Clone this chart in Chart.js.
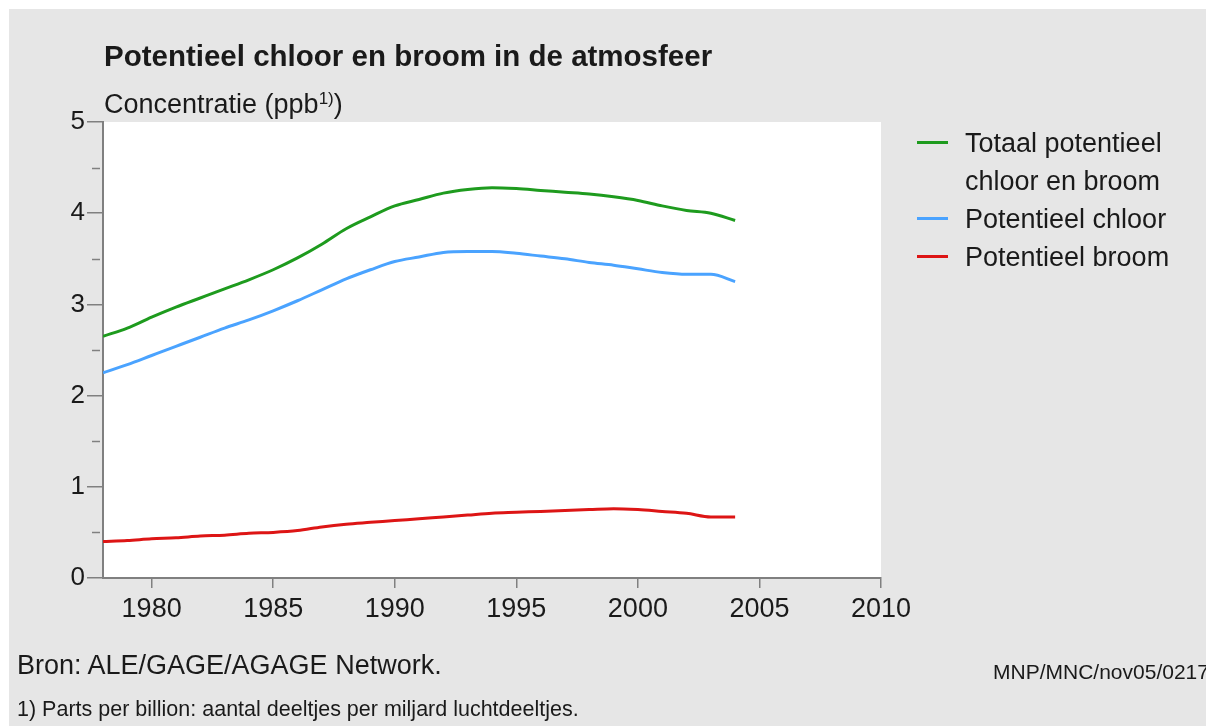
<!DOCTYPE html>
<html>
<head>
<meta charset="utf-8">
<script src="https://cdn.jsdelivr.net/npm/chart.js@4.4.1/dist/chart.umd.min.js"></script>
<style>
  html, body { margin: 0; padding: 0; background: #ffffff; }
  #frame { position: absolute; left: 9px; top: 9px; width: 1197px; height: 717px; background: #e6e6e6; overflow: hidden; }
  #wrap { position: absolute; left: 0; top: 0; width: 1206px; height: 726px; overflow: hidden; }
  .txt { position: absolute; font-family: "Liberation Sans", Arial, sans-serif; color: #1a1a1a; white-space: nowrap; line-height: 1; }
  #title { left: 104px; top: 41px; font-size: 29.5px; font-weight: bold; }
  #unit { left: 104px; top: 90px; font-size: 27px; }
  #unit sup { font-size: 17px; vertical-align: 9px; line-height: 1; }
  #legend { position: absolute; left: 917px; top: 123.5px; font-family: "Liberation Sans", Arial, sans-serif; font-size: 27px; color: #1a1a1a; }
  .item { position: relative; padding-left: 48px; line-height: 38px; white-space: nowrap; }
  .swatch { position: absolute; left: 0; top: 17px; width: 31px; height: 3px; }
  #source { left: 17px; top: 652px; font-size: 27px; }
  #code { left: 993px; top: 661px; font-size: 21px; }
  #note { left: 17px; top: 699px; font-size: 21.5px; }
  #clip { position: absolute; left: 0; top: 0; width: 1206px; height: 726px; overflow: hidden; }
</style>
</head>
<body>
<div id="frame"></div>
<div id="wrap"><canvas id="chart" width="1206" height="726"></canvas></div>
<div id="clip">
  <div class="txt" id="title">Potentieel chloor en broom in de atmosfeer</div>
  <div class="txt" id="unit">Concentratie (ppb<sup>1)</sup>)</div>
  <div id="legend"></div>
  <div class="txt" id="source">Bron: ALE/GAGE/AGAGE Network.</div>
  <div class="txt" id="code">MNP/MNC/nov05/0217</div>
  <div class="txt" id="note">1) Parts per billion: aantal deeltjes per miljard luchtdeeltjes.</div>
</div>
<script>
const years = [1978, 1979, 1980, 1981, 1982, 1983, 1984, 1985, 1986, 1987, 1988, 1989, 1990, 1991,
               1992, 1993, 1994, 1995, 1996, 1997, 1998, 1999, 2000, 2001, 2002, 2003, 2004];

const totaal = [2.65, 2.74, 2.86, 2.97, 3.07, 3.17, 3.27, 3.38, 3.51, 3.66, 3.83, 3.96, 4.08, 4.15,
                4.22, 4.26, 4.28, 4.27, 4.25, 4.23, 4.21, 4.18, 4.14, 4.08, 4.03, 4.00, 3.92];
const chloor = [2.25, 2.34, 2.44, 2.54, 2.64, 2.74, 2.83, 2.93, 3.04, 3.16, 3.28, 3.38, 3.47, 3.52,
                3.57, 3.58, 3.58, 3.56, 3.53, 3.50, 3.46, 3.43, 3.39, 3.35, 3.33, 3.33, 3.25];
const broom = [0.40, 0.41, 0.43, 0.44, 0.46, 0.47, 0.49, 0.50, 0.52, 0.56, 0.59, 0.61, 0.63, 0.65,
               0.67, 0.69, 0.71, 0.72, 0.73, 0.74, 0.75, 0.76, 0.75, 0.73, 0.71, 0.67, 0.67];

const seriesNames = [["Totaal potentieel", "chloor en broom"], ["Potentieel chloor"], ["Potentieel broom"]];
const seriesColors = ["#1e9b1e", "#4aa3ff", "#dd1515"];
const xTicks = [1980, 1985, 1990, 1995, 2000, 2005, 2010];

const axisColor = "#808080";

function points(values) {
    return values.map((v, i) => ({ x: years[i], y: v }));
}

// white plot area + minor ticks on the y axis
const plotBackground = {
    id: 'plotBackground',
    beforeDraw(chart) {
        const { ctx, chartArea } = chart;
        ctx.save();
        ctx.fillStyle = '#ffffff';
        ctx.fillRect(chartArea.left, chartArea.top, chartArea.right - chartArea.left, chartArea.bottom - chartArea.top);
        ctx.restore();
    },
    afterDraw(chart) {
        const { ctx, scales } = chart;
        const y = scales.y;
        ctx.save();
        ctx.strokeStyle = axisColor;
        ctx.lineWidth = 1.5;
        for (let v = 0.5; v < 5; v += 1) {
            const py = Math.round(y.getPixelForValue(v)) + 0.5;
            ctx.beginPath();
            ctx.moveTo(y.right - 11, py);
            ctx.lineTo(y.right - 3, py);
            ctx.stroke();
        }
        ctx.restore();
    }
};

const datasets = [totaal, chloor, broom].map((vals, i) => ({
    label: seriesNames[i].join(' '),
    data: points(vals),
    borderColor: seriesColors[i],
    borderWidth: 3,
    pointRadius: 0,
    cubicInterpolationMode: 'monotone',
    fill: false
}));

new Chart(document.getElementById('chart'), {
    type: 'line',
    data: { datasets: datasets },
    options: {
        responsive: false,
        animation: false,
        layout: { padding: { left: 0, right: 325, top: 122, bottom: 0 } },
        plugins: { legend: { display: false }, tooltip: { enabled: false } },
        scales: {
            x: {
                type: 'linear',
                min: 1978,
                max: 2010,
                afterBuildTicks: (scale) => { scale.ticks = xTicks.map(v => ({ value: v })); },
                afterFit: (scale) => { scale.height = 148; },
                border: { color: axisColor, width: 2 },
                grid: { drawOnChartArea: false, drawTicks: true, tickLength: 10, color: axisColor, tickColor: axisColor, lineWidth: 1.5 },
                ticks: {
                    padding: 5,
                    color: '#1a1a1a',
                    font: { family: 'Liberation Sans', size: 27 },
                    callback: (v) => String(v)
                }
            },
            y: {
                min: 0,
                max: 5,
                afterFit: (scale) => { scale.width = 103; },
                border: { color: axisColor, width: 2 },
                grid: { drawOnChartArea: false, drawTicks: true, tickLength: 16, color: axisColor, tickColor: axisColor, lineWidth: 1.5 },
                ticks: {
                    stepSize: 1,
                    padding: 2,
                    color: '#1a1a1a',
                    font: { family: 'Liberation Sans', size: 26 },
                    callback: (v) => String(v)
                }
            }
        }
    },
    plugins: [plotBackground]
});

// legend built from the series names and colours
const legend = document.getElementById('legend');
seriesNames.forEach((lines, i) => {
    const item = document.createElement('div');
    item.className = 'item';
    item.innerHTML = '<span class="swatch" style="background:' + seriesColors[i] + '"></span>' + lines.join('<br>');
    legend.appendChild(item);
});
</script>
</body>
</html>
